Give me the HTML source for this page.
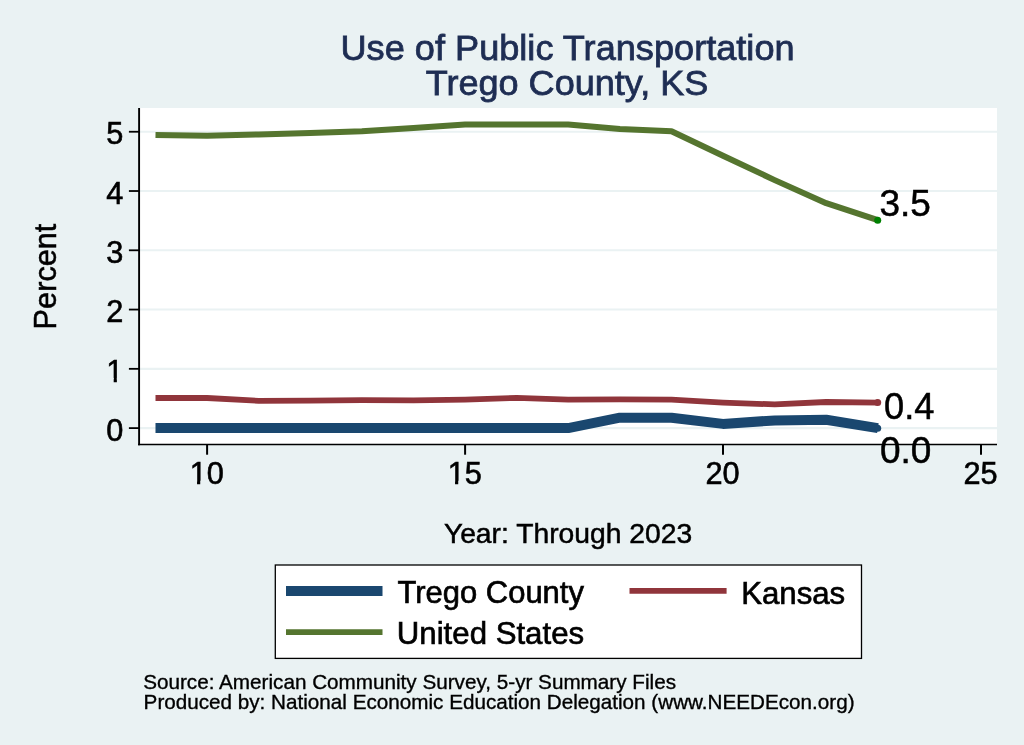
<!DOCTYPE html>
<html><head><meta charset="utf-8"><title>Use of Public Transportation - Trego County, KS</title>
<style>
html,body{margin:0;padding:0;background:#eaf2f3;}
body{width:1024px;height:745px;overflow:hidden;}
svg{display:block;font-family:"Liberation Sans",Arial,Helvetica,sans-serif;}
</style></head><body>
<svg width="1024" height="745" viewBox="0 0 1024 745">
<rect x="0" y="0" width="1024" height="745" fill="#eaf2f3"/>
<rect x="139" y="108" width="858" height="337" fill="#ffffff"/>
<line x1="140" x2="997" y1="428.10" y2="428.10" stroke="#eaf2f3" stroke-width="2.1"/><line x1="140" x2="997" y1="368.83" y2="368.83" stroke="#eaf2f3" stroke-width="2.1"/><line x1="140" x2="997" y1="309.56" y2="309.56" stroke="#eaf2f3" stroke-width="2.1"/><line x1="140" x2="997" y1="250.29" y2="250.29" stroke="#eaf2f3" stroke-width="2.1"/><line x1="140" x2="997" y1="191.02" y2="191.02" stroke="#eaf2f3" stroke-width="2.1"/><line x1="140" x2="997" y1="131.75" y2="131.75" stroke="#eaf2f3" stroke-width="2.1"/>
<g fill="none" stroke-linejoin="round">
<polyline points="155.5,428.1 207.1,428.1 258.7,428.1 310.2,428.1 361.9,428.1 413.5,428.1 465.1,428.1 516.7,428.1 568.2,428.1 619.9,417.7 671.5,417.7 723.0,423.9 774.7,420.4 826.2,419.8 877.9,428.1" stroke="#1a476f" stroke-width="10"/>
<polyline points="155.5,398.0 207.1,398.0 258.7,400.8 310.2,400.6 361.9,400.2 413.5,400.3 465.1,399.6 516.7,397.8 568.2,399.6 619.9,399.4 671.5,399.7 723.0,402.6 774.7,404.4 826.2,402.0 877.9,402.6" stroke="#90353b" stroke-width="5.8"/>
<polyline points="155.5,135.0 207.1,135.7 258.7,134.4 310.2,132.9 361.9,131.2 413.5,128.1 465.1,124.6 516.7,124.6 568.2,124.6 619.9,129.0 671.5,131.2 723.0,155.7 774.7,180.1 826.2,203.2 877.9,220.2" stroke="#55752f" stroke-width="6"/>
</g>
<circle cx="877.7" cy="428.3" r="3.5" fill="#1a476f"/>
<circle cx="877.7" cy="402.5" r="3.5" fill="#90353b"/>
<circle cx="877.7" cy="220.2" r="3.5" fill="#008000"/>
<line x1="139.1" x2="139.1" y1="108" y2="445.3" stroke="#000" stroke-width="1.9"/>
<line x1="138" x2="997" y1="444.5" y2="444.5" stroke="#000" stroke-width="1.6"/>
<line x1="128.9" x2="139" y1="428.10" y2="428.10" stroke="#000" stroke-width="1.8"/><line x1="128.9" x2="139" y1="368.83" y2="368.83" stroke="#000" stroke-width="1.8"/><line x1="128.9" x2="139" y1="309.56" y2="309.56" stroke="#000" stroke-width="1.8"/><line x1="128.9" x2="139" y1="250.29" y2="250.29" stroke="#000" stroke-width="1.8"/><line x1="128.9" x2="139" y1="191.02" y2="191.02" stroke="#000" stroke-width="1.8"/><line x1="128.9" x2="139" y1="131.75" y2="131.75" stroke="#000" stroke-width="1.8"/><line x1="207.1" x2="207.1" y1="444.5" y2="454.7" stroke="#000" stroke-width="2"/><line x1="465.1" x2="465.1" y1="444.5" y2="454.7" stroke="#000" stroke-width="2"/><line x1="723.0" x2="723.0" y1="444.5" y2="454.7" stroke="#000" stroke-width="2"/><line x1="981.0" x2="981.0" y1="444.5" y2="454.7" stroke="#000" stroke-width="2"/>
<g fill="#000" stroke="#000" stroke-width="0.6">
<text x="123.3" y="440.8" text-anchor="end" font-size="30.7">0</text><text x="123.3" y="381.5" text-anchor="end" font-size="30.7">1</text><text x="123.3" y="322.3" text-anchor="end" font-size="30.7">2</text><text x="123.3" y="263.0" text-anchor="end" font-size="30.7">3</text><text x="123.3" y="203.7" text-anchor="end" font-size="30.7">4</text><text x="123.3" y="144.4" text-anchor="end" font-size="30.7">5</text>
<text x="206.7" y="484.4" text-anchor="middle" font-size="30.7">10</text><text x="464.7" y="484.4" text-anchor="middle" font-size="30.7">15</text><text x="722.6" y="484.4" text-anchor="middle" font-size="30.7">20</text><text x="980.6" y="484.4" text-anchor="middle" font-size="30.7">25</text>
</g><rect x="105.72" y="377.93" width="7.96" height="5.80" fill="#eaf2f3"/><rect x="116.88" y="377.93" width="7.09" height="5.80" fill="#eaf2f3"/><rect x="189.08" y="480.80" width="7.96" height="5.80" fill="#eaf2f3"/><rect x="200.24" y="480.80" width="7.09" height="5.80" fill="#eaf2f3"/><rect x="447.08" y="480.80" width="7.96" height="5.80" fill="#eaf2f3"/><rect x="458.24" y="480.80" width="7.09" height="5.80" fill="#eaf2f3"/><g fill="#000" stroke="#000" stroke-width="0.5">
<text x="879.4" y="215.8" font-size="37">3.5</text>
<text x="884" y="418.6" font-size="37" textLength="50.4" lengthAdjust="spacingAndGlyphs">0.4</text>
<text x="880" y="462.6" font-size="37">0.0</text>
<text transform="translate(55.6,276.5) rotate(-90)" text-anchor="middle" font-size="30.7">Percent</text>
<text x="568.05" y="543.4" text-anchor="middle" font-size="28.3" textLength="248.3" lengthAdjust="spacingAndGlyphs">Year: Through 2023</text>
</g>
<g fill="#1e2d53" stroke="#1e2d53" stroke-width="0.8" font-size="35.9" text-anchor="middle" lengthAdjust="spacingAndGlyphs">
<text x="567.55" y="60" textLength="454.1" lengthAdjust="spacingAndGlyphs">Use of Public Transportation</text>
<text x="567.05" y="95.1" textLength="282.7" lengthAdjust="spacingAndGlyphs">Trego County, KS</text>
</g>
<rect x="275.3" y="565" width="586.2" height="93.4" fill="#ffffff" stroke="#000" stroke-width="1.3"/>
<line x1="286" x2="382.5" y1="591" y2="591" stroke="#1a476f" stroke-width="10"/>
<line x1="286" x2="382.5" y1="632.2" y2="632.2" stroke="#55752f" stroke-width="5.8"/>
<line x1="629.5" x2="726.6" y1="590.9" y2="590.9" stroke="#90353b" stroke-width="5.8"/>
<g fill="#000" stroke="#000" stroke-width="0.65" font-size="30.5">
<text x="397.5" y="603.3" textLength="186.4" lengthAdjust="spacingAndGlyphs">Trego County</text>
<text x="396.8" y="644.4" textLength="187.3" lengthAdjust="spacingAndGlyphs">United States</text>
<text x="741.2" y="603.6" textLength="104" lengthAdjust="spacingAndGlyphs">Kansas</text>
</g>
<g fill="#000" stroke="#000" stroke-width="0.35" font-size="20.3">
<text x="143.2" y="688.7" textLength="532.8" lengthAdjust="spacingAndGlyphs">Source: American Community Survey, 5-yr Summary Files</text>
<text x="143.6" y="709.2" textLength="711" lengthAdjust="spacingAndGlyphs">Produced by: National Economic Education Delegation (www.NEEDEcon.org)</text>
</g>
</svg>
</body></html>
